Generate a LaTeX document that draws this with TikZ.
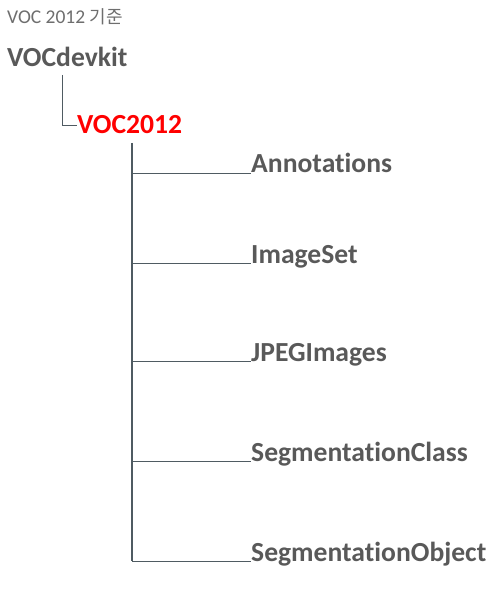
\documentclass[tikz,border=0pt]{standalone}
\usepackage{fontspec}
\setmainfont{Carlito}[Ligatures=NoCommon]
\newfontfamily\krfont{Noto Sans CJK KR}
\definecolor{txtgray}{HTML}{595959}
\definecolor{ttlgray}{HTML}{6E6E6E}
\definecolor{linegray}{HTML}{4F5B62}
\definecolor{vocred}{HTML}{FF0000}
\begin{document}
\begin{tikzpicture}[x=1pt,y=-1pt,
  lbl/.style={anchor=base west,inner sep=0pt,font=\fontsize{27.6}{32}\selectfont\bfseries,text=txtgray},
  trunk/.style={draw=linegray,line width=1.6pt},
  branch/.style={draw=linegray,line width=0.9pt}]
\useasboundingbox (0,0) rectangle (495,593);
\node[anchor=base west,inner sep=0pt,font=\fontsize{19.5}{22}\selectfont,text=ttlgray] (title) at (7,24) {VOC 2012 {\krfont\fontsize{18}{22}\selectfont 기준}};
\node[lbl] (root) at (7,67) {VOCdevkit};
\node[lbl,text=vocred] (voc) at (77,134) {VOC2012};
\coordinate (rtop) at (62,75);
\coordinate (rcorner) at (62,125);
\draw[branch] (rtop) -- (rcorner) -- (voc.west |- rcorner);
\node[lbl] (ann) at (251,173) {Annotations};
\node[lbl] (iset) at (251,263) {ImageSet};
\node[lbl] (jpeg) at (251,361) {JPEGImages};
\node[lbl] (scls) at (251,461) {SegmentationClass};
\node[lbl] (sobj) at (251,561) {SegmentationObject};
\coordinate (ttop) at (132,143);
\coordinate (tbot) at (132,561);
\draw[trunk] (ttop) -- (tbot);
\foreach \n in {ann,iset,jpeg,scls,sobj}{
  \draw[branch] (ttop |- \n.base) -- (\n.base west);
}
\end{tikzpicture}
\end{document}
